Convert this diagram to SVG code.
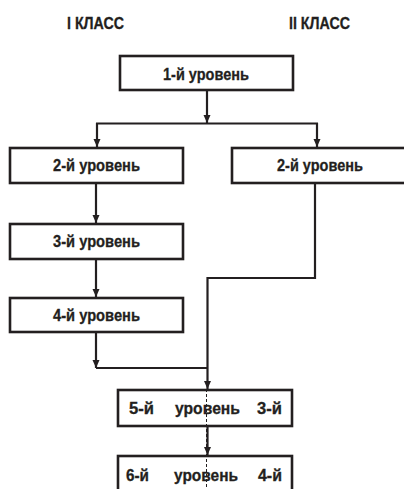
<svg xmlns="http://www.w3.org/2000/svg" width="404" height="489" viewBox="0 0 404 489">
  <style>
    .box { fill: #fff; stroke: #231f20; stroke-width: 2.6; }
    .ln { fill: none; stroke: #231f20; stroke-width: 2.2; }
    .dash { fill: none; stroke: #231f20; stroke-width: 1; stroke-dasharray: 3 2; }
    text { font-family: "Liberation Sans", Arial, sans-serif; font-weight: bold; font-size: 17px; fill: #231f20; stroke: #231f20; stroke-width: 0.3; }
    .head { font-size: 16px; }
  </style>
  <defs>
    <marker id="arr" viewBox="0 0 8 10" refX="8" refY="5" markerWidth="8" markerHeight="10" markerUnits="userSpaceOnUse" orient="auto">
      <path d="M0,1.5 L8,5 L0,8.5 Z" fill="#231f20"/>
    </marker>
  </defs>

  <!-- column headings -->
  <g id="headings">
    <text class="head" x="67" y="28.5" textLength="57" lengthAdjust="spacingAndGlyphs">I КЛАСС</text>
    <text class="head" x="289" y="28.5" textLength="61" lengthAdjust="spacingAndGlyphs">II КЛАСС</text>
  </g>

  <!-- connectors -->
  <g id="connectors">
    <line class="ln" x1="207" y1="90" x2="207" y2="123" marker-end="url(#arr)"/>
    <line class="ln" x1="96" y1="123.5" x2="318" y2="123.5"/>
    <line class="ln" x1="97" y1="123" x2="97" y2="147" marker-end="url(#arr)"/>
    <line class="ln" x1="317" y1="123" x2="317" y2="147" marker-end="url(#arr)"/>
    <line class="ln" x1="96" y1="183" x2="96" y2="223" marker-end="url(#arr)"/>
    <line class="ln" x1="96" y1="259" x2="96" y2="297" marker-end="url(#arr)"/>
    <line class="ln" x1="96" y1="332" x2="96" y2="368" marker-end="url(#arr)"/>
    <polyline class="ln" points="96,368 207,368"/>
    <polyline class="ln" points="315,183 315,278 207.5,278 207.5,389" marker-end="url(#arr)"/>
    <line class="ln" x1="207.5" y1="426" x2="207.5" y2="455" marker-end="url(#arr)"/>
  </g>

  <!-- level boxes -->
  <g id="level1">
    <rect class="box" x="120" y="56" width="173" height="34"/>
    <text x="163" y="79.5" textLength="86" lengthAdjust="spacingAndGlyphs">1-й уровень</text>
  </g>
  <g id="level2-left">
    <rect class="box" x="10" y="148" width="173" height="35"/>
    <text x="53" y="171" textLength="87" lengthAdjust="spacingAndGlyphs">2-й уровень</text>
  </g>
  <g id="level2-right">
    <rect class="box" x="232" y="148" width="180" height="35"/>
    <text x="277" y="171" textLength="86" lengthAdjust="spacingAndGlyphs">2-й уровень</text>
  </g>
  <g id="level3">
    <rect class="box" x="10" y="224" width="173" height="35"/>
    <text x="53" y="247" textLength="87" lengthAdjust="spacingAndGlyphs">3-й уровень</text>
  </g>
  <g id="level4">
    <rect class="box" x="10" y="298" width="173" height="34"/>
    <text x="53" y="321" textLength="87" lengthAdjust="spacingAndGlyphs">4-й уровень</text>
  </g>
  <g id="level5">
    <rect class="box" x="118" y="390" width="174" height="36"/>
    <text x="129" y="414" textLength="25" lengthAdjust="spacingAndGlyphs">5-й</text>
    <text x="175" y="414" textLength="65" lengthAdjust="spacingAndGlyphs">уровень</text>
    <text x="257" y="414" textLength="25" lengthAdjust="spacingAndGlyphs">3-й</text>
  </g>
  <g id="level6">
    <rect class="box" x="118" y="456" width="174" height="40"/>
    <text x="126" y="481" textLength="23" lengthAdjust="spacingAndGlyphs">6-й</text>
    <text x="174" y="481" textLength="64" lengthAdjust="spacingAndGlyphs">уровень</text>
    <text x="258" y="481" textLength="24" lengthAdjust="spacingAndGlyphs">4-й</text>
  </g>

  <!-- class divider -->
  <line class="dash" x1="206.5" y1="389" x2="206.5" y2="489"/>
</svg>
